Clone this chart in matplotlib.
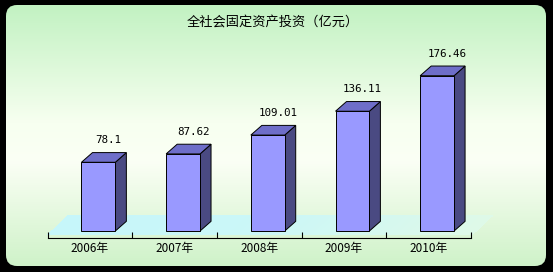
import numpy as np
import matplotlib.pyplot as plt
from matplotlib.patches import FancyBboxPatch
from matplotlib.colors import LinearSegmentedColormap

plt.rcParams['font.family'] = ['Noto Sans CJK SC', 'DejaVu Sans']

# data
years = ['2006年', '2007年', '2008年', '2009年', '2010年']
values = [78.1, 87.62, 109.01, 136.11, 176.46]
value_labels = ['78.1', '87.62', '109.01', '136.11', '176.46']
title = '全社会固定资产投资（亿元）'

W, H = 553, 272
fig = plt.figure(figsize=(W / 100, H / 100), dpi=100, facecolor='black')

# background panel with gradient
bg = fig.add_axes([0, 0, 1, 1])
bg.set_xlim(0, W)
bg.set_ylim(H, 0)
bg.axis('off')
cmap = LinearSegmentedColormap.from_list('bg', [(0.0, '#c2f2c2'), (0.45, '#f7fff0'),
                                                 (0.6, '#fbfff5'), (1.0, '#cff2c9')])
grad = np.linspace(0, 1, 256).reshape(-1, 1)
im = bg.imshow(grad, cmap=cmap, extent=[6, 546, 266, 5], aspect='auto')
panel = FancyBboxPatch((6, 5), 540, 261, boxstyle='round,pad=0,rounding_size=11',
                       fc='none', ec='none')
bg.add_patch(panel)
im.set_clip_path(panel)

fig.text(273 / W, 1 - 23 / H, title, ha='center', va='center', fontsize=9.5)

# chart axes
ax = fig.add_axes([47.6 / W, 34.3 / H, 423.4 / W, (242 - 34.3) / H])
ax.set_facecolor('none')
ax.set_xlim(-0.5, 4.5)
ax.set_ylim(-7.6, 228.4)
for s in ['top', 'left', 'right']:
    ax.spines[s].set_visible(False)
ax.spines['bottom'].set_linewidth(0.8)
ax.set_yticks([])
ax.set_xticks(np.arange(-0.5, 5.0, 1.0))
ax.set_xticklabels([])
ax.tick_params(axis='x', which='major', direction='in', length=4, width=0.8)
ax.set_xticks(np.arange(len(years)), minor=True)
ax.set_xticklabels(years, minor=True, fontsize=8.5)
ax.tick_params(axis='x', which='minor', length=0, pad=3)

# floor (cyan fading to the right), drawn as thin slanted strips
dx_floor, dy_floor = 0.25, 22.5
fcmap = LinearSegmentedColormap.from_list('floor', ['#c6f6fa', '#cbf7f7', '#def9e8'])
edges = np.linspace(-0.5, 4.5, 81)
for k in range(len(edges) - 1):
    a, b = edges[k], edges[k + 1] + 0.01
    ax.fill([a, b, b + dx_floor, a + dx_floor], [-4.5, -4.5, -4.5 + dy_floor, -4.5 + dy_floor],
            fc=fcmap(k / (len(edges) - 2)), lw=0, antialiased=False, clip_on=False, zorder=1)

# 3d bars
w = 0.4
dx, dy = 0.13, 11
for i, v in enumerate(values):
    x0 = i - 0.1
    x1 = x0 + w
    ax.fill([x1, x1 + dx, x1 + dx, x1], [0, dy, v + dy, v], fc='#4a4a82', ec='black',
            lw=0.7, clip_on=False, zorder=3)
    ax.fill([x0, x1, x1 + dx, x0 + dx], [v, v, v + dy, v + dy], fc='#6e6ec9', ec='black',
            lw=0.7, clip_on=False, zorder=3)
    ax.bar(x0, v, width=w, align='edge', color='#9999ff', edgecolor='black', lw=0.7,
           zorder=4, clip_on=False)
    ax.text(i + 0.22, v + 25, value_labels[i], ha='center', va='center',
            fontsize=7.8, family='DejaVu Sans Mono')

fig.savefig('out.png', dpi=100, facecolor='black')
